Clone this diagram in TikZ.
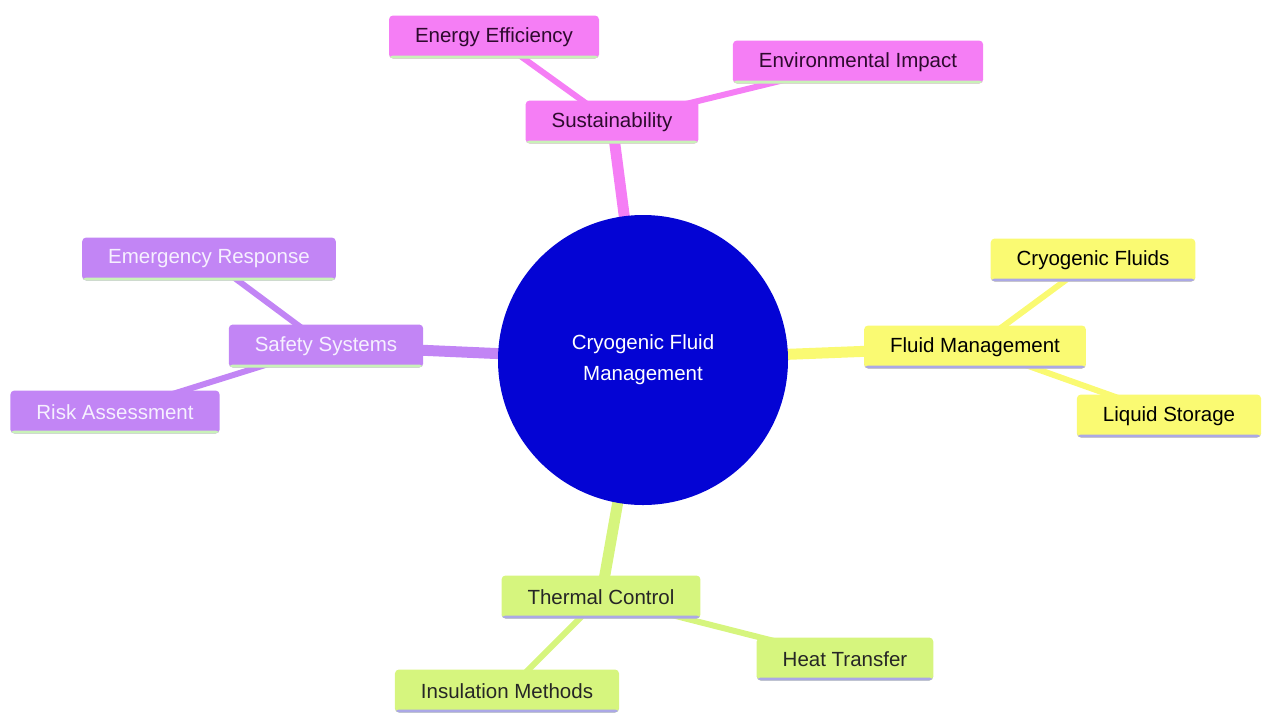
\documentclass[tikz,border=0pt]{standalone}
\usepackage{fontspec}
\setmainfont{Liberation Sans}
\usetikzlibrary{backgrounds}
\definecolor{corecol}{HTML}{0404D4}
\definecolor{pinkcol}{HTML}{F57EF5}
\definecolor{yellowcol}{HTML}{FAFA72}
\definecolor{purplecol}{HTML}{C285F5}
\definecolor{greencol}{HTML}{D6F57E}
\definecolor{mintline}{HTML}{C9F2B8}
\definecolor{lavline}{HTML}{ABA8E6}
\definecolor{pinktext}{HTML}{2E0A2E}
\definecolor{purpletext}{HTML}{F6F0FF}
\begin{document}
\begin{tikzpicture}[x=1pt,y=-1pt,line cap=round,line join=round]
			\tikzset{
				box/.style={rectangle,rounded corners=4pt,minimum height=43pt,inner xsep=26pt,inner ysep=0pt,font=\fontsize{20.5}{24}\selectfont},
				base/.style={path picture={\fill[#1] (path picture bounding box.south west) rectangle ([yshift=3pt]path picture bounding box.south east);}},
				sustbox/.style={box,fill=pinkcol,text=pinktext,base=mintline},
				fluidbox/.style={box,fill=yellowcol,text=black,base=lavline},
				safebox/.style={box,fill=purplecol,text=purpletext,base=mintline},
				thermbox/.style={box,fill=greencol,text=black!85,base=lavline},
				trunk/.style={line width=11pt},
				twig/.style={line width=6pt}
			}
			\useasboundingbox (0,0) rectangle (1264,716);
			\node[circle,fill=corecol,text=white,minimum size=290pt,align=center,font=\fontsize{20.5}{31}\selectfont] (core) at (643,360) {Cryogenic Fluid\\Management};
			% Sustainability
			\node[sustbox] (sust) at (612,122) {Sustainability};
			\node[sustbox] (energy) at (494,37) {Energy Efficiency};
			\node[sustbox] (envir) at (858,62) {Environmental Impact};
			% Fluid Management
			\node[fluidbox] (fluid) at (975,347) {Fluid Management};
			\node[fluidbox] (cryo) at (1093,260) {Cryogenic Fluids};
			\node[fluidbox] (liquid) at (1169,416) {Liquid Storage};
			% Safety Systems
			\node[safebox] (safety) at (326,346) {Safety Systems};
			\node[safebox] (emerg) at (209,259) {Emergency Response};
			\node[safebox] (risk) at (115,412) {Risk Assessment};
			% Thermal Control
			\node[thermbox] (therm) at (601,597) {Thermal Control};
			\node[thermbox] (heat) at (845,659) {Heat Transfer};
			\node[thermbox] (insul) at (507,691) {Insulation Methods};
			\begin{scope}[on background layer]
				\draw[pinkcol,trunk] (core.center)--(sust.center);
				\draw[pinkcol,twig] (sust.center)--(energy.center) (sust.center)--(envir.center);
				\draw[yellowcol,trunk] (core.center)--(fluid.center);
				\draw[yellowcol,twig] (fluid.center)--(cryo.center) (fluid.center)--(liquid.center);
				\draw[purplecol,trunk] (core.center)--(safety.center);
				\draw[purplecol,twig] (safety.center)--(emerg.center) (safety.center)--(risk.center);
				\draw[greencol,trunk] (core.center)--(therm.center);
				\draw[greencol,twig] (therm.center)--(heat.center) (therm.center)--(insul.center);
			\end{scope}
		\end{tikzpicture}
\end{document}
